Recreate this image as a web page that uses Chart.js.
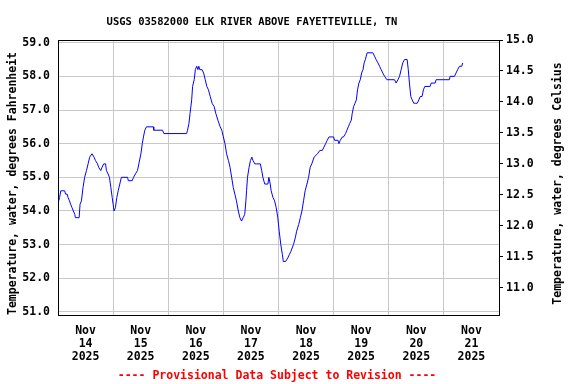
<!DOCTYPE html>
<html><head><meta charset="utf-8">
<script src="https://cdn.jsdelivr.net/npm/chart.js@4"></script>
<style>html,body{margin:0;padding:0;background:#fff}canvas{display:block}</style>
</head><body>
<canvas id="c" width="576" height="384"></canvas>
<script>
// hours since Nov 14 2025 00:00
const hours = [0.3,0.7,1.2,2.9,3.3,4.0,4.4,5.0,5.5,6.1,6.7,7.3,7.6,9.2,9.6,10.2,10.9,11.6,12.4,13.1,13.8,14.8,15.7,16.3,17.2,17.7,18.6,19.2,19.9,20.7,21.1,21.8,22.4,23.0,23.6,24.0,24.4,25.0,25.6,26.2,26.9,27.6,30.3,30.6,32.3,32.9,33.7,34.6,35.2,36.1,36.7,37.2,37.8,38.5,41.5,41.7,45.5,46.1,56.0,56.4,57.0,57.5,58.2,58.6,59.3,59.8,60.4,60.9,61.3,61.7,62.7,63.4,64.1,64.8,65.5,66.3,67.1,68.0,68.7,69.6,70.6,71.3,72.0,72.7,73.4,74.2,74.9,75.6,76.3,77.0,77.7,78.5,79.2,79.9,80.6,81.3,81.8,82.1,82.5,83.2,83.8,84.4,84.9,85.7,86.4,88.1,88.7,89.2,90.0,91.4,91.8,92.4,92.8,93.6,94.3,95.0,95.7,96.3,97.0,97.7,98.1,99.1,100.0,100.7,101.4,102.5,103.3,103.9,104.8,105.5,106.2,106.9,107.6,108.4,109.1,109.8,110.5,111.5,113.0,114.0,115.1,115.8,116.5,117.2,118.0,120.0,120.4,121.9,122.3,122.9,123.8,124.3,125.2,125.8,126.4,127.0,127.7,128.1,128.7,129.3,129.9,130.4,131.0,131.6,132.2,132.8,133.3,133.8,134.2,134.6,137.1,137.8,138.5,139.3,140.0,140.7,141.4,142.2,143.2,146.5,147.2,148.0,148.7,149.4,150.1,150.9,152.0,152.5,153.0,153.6,154.2,154.9,155.6,156.4,157.1,157.7,158.5,159.1,159.7,162.0,162.5,164.2,164.6,170.4,170.7,172.6,173.3,174.0,174.8,175.8,176.2];
const tempF = [54.3,54.4,54.6,54.6,54.5,54.5,54.4,54.3,54.2,54.1,54.0,53.9,53.8,53.8,54.2,54.3,54.7,55.0,55.2,55.4,55.6,55.7,55.6,55.5,55.4,55.3,55.2,55.3,55.4,55.4,55.2,55.1,55.0,54.7,54.4,54.2,54.0,54.1,54.4,54.6,54.8,55.0,55.0,54.9,54.9,55.0,55.1,55.2,55.4,55.7,56.0,56.2,56.4,56.5,56.5,56.4,56.4,56.3,56.3,56.4,56.6,56.9,57.3,57.7,57.9,58.2,58.3,58.2,58.3,58.2,58.2,58.1,57.9,57.7,57.6,57.4,57.2,57.1,56.9,56.7,56.5,56.4,56.2,56.0,55.7,55.5,55.3,55.0,54.7,54.5,54.3,54.0,53.8,53.7,53.8,53.9,54.3,54.6,55.0,55.3,55.5,55.6,55.5,55.4,55.4,55.4,55.2,55.0,54.8,54.8,55.0,54.8,54.6,54.4,54.3,54.1,53.8,53.4,53.0,52.7,52.5,52.5,52.6,52.7,52.8,53.0,53.2,53.4,53.6,53.8,54.0,54.3,54.6,54.8,55.0,55.3,55.4,55.6,55.7,55.8,55.8,55.9,56.0,56.1,56.2,56.2,56.1,56.1,56.0,56.1,56.2,56.2,56.3,56.4,56.5,56.6,56.7,56.9,57.1,57.2,57.3,57.6,57.8,57.9,58.1,58.2,58.4,58.5,58.6,58.7,58.7,58.6,58.5,58.4,58.3,58.2,58.1,58.0,57.9,57.9,57.8,57.9,58.0,58.2,58.4,58.5,58.5,58.2,57.8,57.4,57.3,57.2,57.2,57.2,57.3,57.4,57.4,57.6,57.7,57.7,57.8,57.8,57.9,57.9,58.0,58.0,58.1,58.2,58.3,58.3,58.4];
const dayLabels = ['14','15','16','17','18','19','20','21'];
const monthLabel = 'Nov';
const yearLabel = '2025';
const fTicks = [51,52,53,54,55,56,57,58,59];
const cTicks = [11.0,11.5,12.0,12.5,13.0,13.5,14.0,14.5,15.0];
const titleText = 'USGS 03582000 ELK RIVER ABOVE FAYETTEVILLE, TN';
const leftTitle = 'Temperature, water, degrees Fahrenheit';
const rightTitle = 'Temperature, water, degrees Celsius';
const footerText = '---- Provisional Data Subject to Revision ----';

const FAM = '"DejaVu Sans Mono", "Liberation Mono", monospace';
const GRID = '#c8c8c8';

const textPlugin = {
  id: 'texts',
  afterDraw(chart) {
    const ctx = chart.ctx, a = chart.chartArea;
    ctx.save();
    // frame
    ctx.strokeStyle = '#000';
    ctx.lineWidth = 1;
    ctx.strokeRect(a.left + 0.5, a.top + 0.5, a.right - a.left, a.bottom - a.top - 1);
    // title
    ctx.fillStyle = '#000';
    ctx.textBaseline = 'alphabetic';
    ctx.textAlign = 'center';
    ctx.font = 'bold 10.5px ' + FAM;
    ctx.fillText(titleText, 252, 25);
    // footer
    ctx.fillStyle = '#ff0000';
    ctx.font = 'bold 11.5px ' + FAM;
    ctx.fillText(footerText, 277, 379);
    // axis titles
    ctx.fillStyle = '#000';
    ctx.font = 'bold 11.5px ' + FAM;
    ctx.save();
    ctx.translate(15.5, 183.5);
    ctx.rotate(-Math.PI / 2);
    ctx.fillText(leftTitle, 0, 0);
    ctx.restore();
    ctx.save();
    ctx.translate(561, 183.5);
    ctx.rotate(-Math.PI / 2);
    ctx.fillText(rightTitle, 0, 0);
    ctx.restore();
    ctx.restore();
  }
};

const tickFont = {family: FAM, weight: 'bold', size: 11.5, lineHeight: 1.13};

new Chart(document.getElementById('c'), {
  type: 'line',
  data: {
    datasets: [{
      data: hours.map((h, i) => ({x: h, y: tempF[i]})),
      borderColor: '#0000ff', borderWidth: 1, pointRadius: 0,
      fill: false, tension: 0, yAxisID: 'y', xAxisID: 'x'
    }]
  },
  options: {
    responsive: false, animation: false, devicePixelRatio: 1,
    layout: {padding: {top: 40, left: 0, right: 0, bottom: 0}},
    plugins: {legend: {display: false}, tooltip: {enabled: false}, title: {display: false}},
    scales: {
      x: {
        type: 'linear', position: 'bottom', min: 0, max: 192,
        afterBuildTicks: s => { const t = []; for (let v = 0; v <= 192; v += 12) t.push({value: v}); s.ticks = t; },
        afterFit: s => { s.height = 68; },
        grid: {color: c => (c.tick && c.tick.value % 24 === 0 && c.tick.value > 0 && c.tick.value < 192) ? GRID : 'rgba(0,0,0,0)', drawTicks: false, lineWidth: 1},
        border: {display: false},
        ticks: {
          autoSkip: false, maxRotation: 0, minRotation: 0, padding: 9, color: '#000', font: tickFont,
          callback: v => (v % 24 === 12) ? [monthLabel, dayLabels[(v - 12) / 24], yearLabel] : ''
        }
      },
      y: {
        type: 'linear', position: 'left', min: 50.88, max: 59.08,
        afterBuildTicks: s => { s.ticks = fTicks.map(v => ({value: v})); },
        afterFit: s => { s.width = 58; },
        grid: {color: GRID, drawTicks: false, lineWidth: 1},
        border: {display: false},
        ticks: {padding: 8, color: '#000', font: tickFont, callback: v => v.toFixed(1)}
      },
      y2: {
        type: 'linear', position: 'right', min: 10.54, max: 15.0,
        afterBuildTicks: s => { s.ticks = cTicks.map(v => ({value: v})); },
        afterFit: s => { s.width = 77; },
        grid: {drawOnChartArea: false, drawTicks: true, tickLength: 4, color: '#000', lineWidth: 1},
        border: {display: false},
        ticks: {padding: 3, color: '#000', font: tickFont, callback: v => v.toFixed(1)}
      }
    }
  },
  plugins: [textPlugin]
});
</script>
</body></html>
